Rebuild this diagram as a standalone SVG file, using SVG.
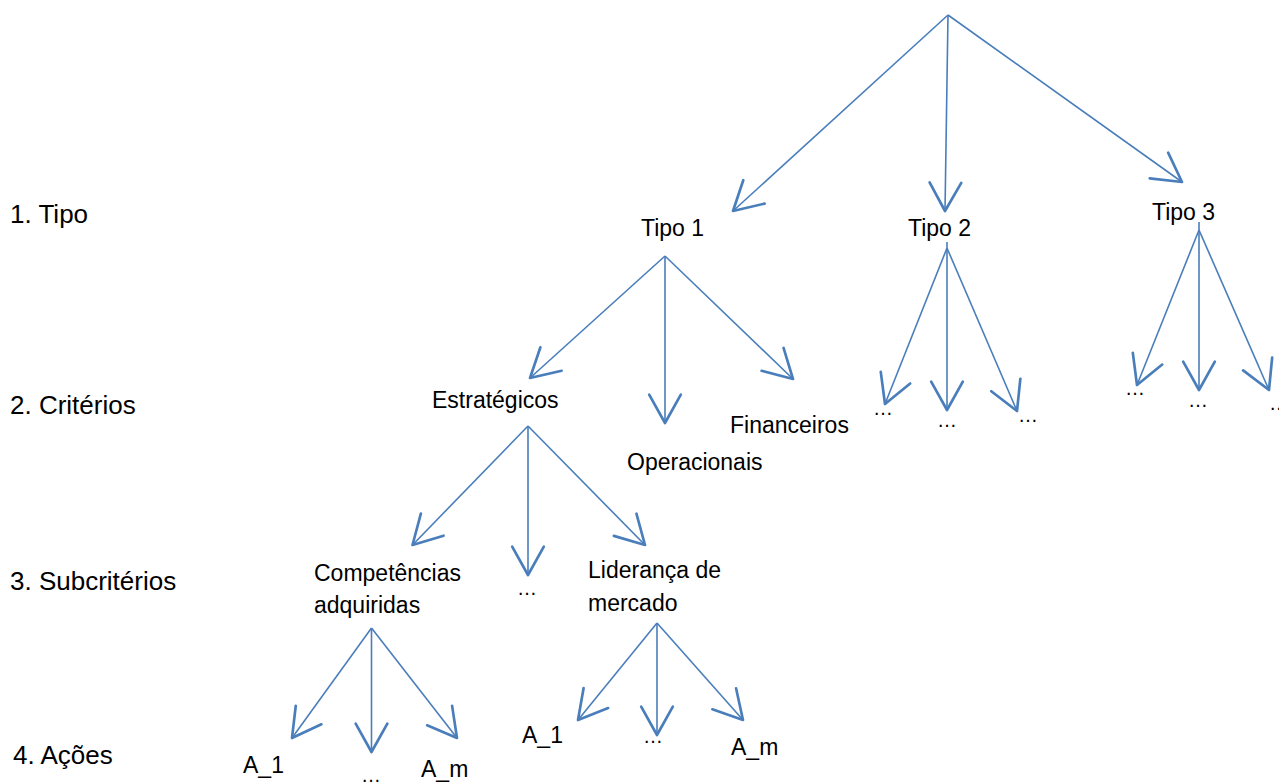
<svg xmlns="http://www.w3.org/2000/svg" width="1279" height="783" viewBox="0 0 1279 783">
<style>
  text { font-family: "Liberation Sans", Arial, sans-serif; fill: #000; }
  .lvl { font-size: 26px; }
  .nd { font-size: 23px; }
  .el { font-size: 20px; }
  .cn line { stroke: #4A7EBB; stroke-width: 1.6; marker-end: url(#arr); }
</style>
<defs>
  <marker id="arr" markerUnits="userSpaceOnUse" markerWidth="40" markerHeight="40" viewBox="-20 -12 24 24" refX="0" refY="0" orient="auto" overflow="visible">
    <path d="M-17,-9.5 L0,0 L-17,9.5" fill="none" stroke="#4A7EBB" stroke-width="1.6" stroke-linejoin="round" stroke-linecap="round"/>
  </marker>
</defs>
<rect width="1279" height="783" fill="#fff"/>

<g id="levels">
  <text class="lvl" x="10" y="223">1. Tipo</text>
  <text class="lvl" x="10" y="414">2. Critérios</text>
  <text class="lvl" x="10" y="590">3. Subcritérios</text>
  <text class="lvl" x="13" y="764">4. Ações</text>
</g>

<g class="cn" id="connectors">
  <line x1="948" y1="15" x2="733" y2="211"/>
  <line x1="948" y1="15" x2="945" y2="211"/>
  <line x1="948" y1="15" x2="1182" y2="182"/>
  <line x1="665" y1="256" x2="530" y2="378"/>
  <line x1="665" y1="256" x2="665" y2="423"/>
  <line x1="665" y1="256" x2="793" y2="379"/>
  <line x1="947" y1="248" x2="885" y2="404"/>
  <line x1="947" y1="242" x2="947" y2="410"/>
  <line x1="947" y1="248" x2="1017" y2="411"/>
  <line x1="1199" y1="230" x2="1137" y2="385"/>
  <line x1="1199" y1="222" x2="1199" y2="390"/>
  <line x1="1199" y1="230" x2="1269" y2="390"/>
  <line x1="528" y1="426" x2="412.5" y2="545"/>
  <line x1="528" y1="426" x2="528" y2="575"/>
  <line x1="528" y1="426" x2="645" y2="545"/>
  <line x1="371.5" y1="628" x2="292" y2="738"/>
  <line x1="371.5" y1="628" x2="371.5" y2="752"/>
  <line x1="371.5" y1="628" x2="457" y2="738"/>
  <line x1="657" y1="623" x2="578" y2="720"/>
  <line x1="657" y1="623" x2="657" y2="735"/>
  <line x1="657" y1="623" x2="743" y2="720"/>
</g>

<g id="tipo1"><text class="nd" x="641" y="236">Tipo 1</text></g>
<g id="tipo2"><text class="nd" x="908" y="236">Tipo 2</text></g>
<g id="tipo3"><text class="nd" x="1152" y="220">Tipo 3</text></g>

<g id="estrategicos"><text class="nd" x="432" y="408">Estratégicos</text></g>
<g id="operacionais"><text class="nd" x="627" y="470">Operacionais</text></g>
<g id="financeiros"><text class="nd" x="730" y="433">Financeiros</text></g>

<g id="t2a"><text class="el" x="873" y="415">…</text></g>
<g id="t2b"><text class="el" x="937" y="427">…</text></g>
<g id="t2c"><text class="el" x="1018" y="422">…</text></g>
<g id="t3a"><text class="el" x="1125" y="395">…</text></g>
<g id="t3b"><text class="el" x="1188" y="407">…</text></g>
<g id="t3c"><text class="el" x="1269" y="410">…</text></g>

<g id="competencias"><text class="nd" x="314" y="581">Competências</text><text class="nd" x="314" y="613">adquiridas</text></g>
<g id="sub-mid"><text class="el" x="517" y="595">…</text></g>
<g id="lideranca"><text class="nd" x="588" y="578">Liderança de</text><text class="nd" x="588" y="611">mercado</text></g>

<g id="c-a1"><text class="nd" x="243" y="773">A_1</text></g>
<g id="c-mid"><text class="el" x="361" y="782">…</text></g>
<g id="c-am"><text class="nd" x="421" y="777">A_m</text></g>
<g id="l-a1"><text class="nd" x="522" y="743">A_1</text></g>
<g id="l-mid"><text class="el" x="643" y="743">…</text></g>
<g id="l-am"><text class="nd" x="731" y="755">A_m</text></g>
</svg>
